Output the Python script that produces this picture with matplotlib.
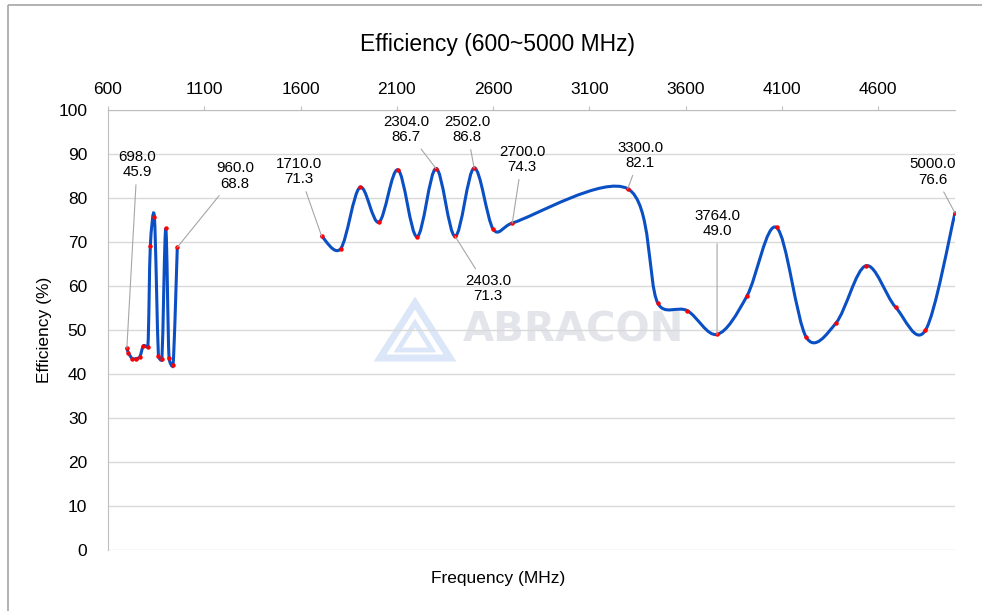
import numpy as np
import matplotlib
matplotlib.use('Agg')
import matplotlib.pyplot as plt
from matplotlib.path import Path
from matplotlib.patches import PathPatch, Rectangle, Polygon

plt.rcParams['font.family'] = ['Liberation Sans', 'DejaVu Sans']

# data (MHz, %)
low_freq = [698, 706, 726, 744, 765, 784, 807, 820, 841, 862, 880, 900, 917, 938, 960]
low_eff = [45.9, 44.8, 43.5, 43.5, 43.9, 46.4, 46.2, 69.2, 75.7, 44.1, 43.3, 73.1, 43.6, 42.0, 68.8]

high_freq = [1710, 1809, 1908, 2007, 2106, 2205, 2304, 2403, 2502, 2601, 2700,
             3300, 3455, 3609, 3764, 3919, 4073, 4228, 4382, 4537, 4691, 4846, 5000]
high_eff = [71.3, 68.5, 82.4, 74.5, 86.4, 71.2, 86.7, 71.3, 86.8, 72.9, 74.3,
            82.1, 56.2, 54.4, 49.0, 57.7, 73.3, 48.3, 51.6, 64.6, 55.2, 49.9, 76.6]

labeled = [698, 960, 1710, 2304, 2403, 2502, 2700, 3300, 3764, 5000]

x_ticks = [600, 1100, 1600, 2100, 2600, 3100, 3600, 4100, 4600]
y_ticks = list(range(0, 101, 10))

# where each callout text sits (data coords)
label_pos = {698: (751, 87.6), 960: (1260, 85.0), 1710: (1592, 86.0),
             2304: (2148, 95.6), 2403: (2574, 59.4), 2502: (2465, 95.6),
             2700: (2751, 88.8), 3300: (3364, 89.7), 3764: (3764, 74.2),
             5000: (4886, 85.9)}

PX = np.array([847 / 4400.0, 4.4])   # pixels per MHz, per percent


def smooth_path(xs, ys):
    # smoothed line like excel: catmull-rom bezier, control arms capped
    pts = np.column_stack([xs, ys]).astype(float)
    n = len(pts)
    scr = pts * PX
    seg = np.hypot(*np.diff(scr, axis=0).T)
    tang = [(pts[min(i + 1, n - 1)] - pts[max(i - 1, 0)]) / 6 for i in range(n)]

    def arm(t, limit):
        ln = np.hypot(*(t * PX))
        if ln > limit and ln > 0:
            t = t * limit / ln
        return t

    verts = [pts[0]]
    codes = [Path.MOVETO]
    for i in range(n - 1):
        c1 = pts[i] + arm(tang[i], 0.5 * seg[i])
        c2 = pts[i + 1] - arm(tang[i + 1], 0.5 * seg[i])
        verts += [c1, c2, pts[i + 1]]
        codes += [Path.CURVE4] * 3
    return Path(verts, codes)


fig = plt.figure(figsize=(9.82, 6.11), dpi=100)

# background layer in pixel coords for border + watermark
bg = fig.add_axes([0, 0, 1, 1], zorder=0)
bg.set_xlim(0, 982)
bg.set_ylim(611, 0)
bg.axis('off')
bg.add_patch(Rectangle((8, 5), 1100, 700, fill=False, edgecolor='#a6a6a6', lw=1.2))
logo_c = '#dbe7f8'
bg.add_patch(Polygon([(380, 358), (415, 303), (450, 358)], closed=True, fill=False,
                     edgecolor=logo_c, lw=5, joinstyle='miter'))
bg.add_patch(Polygon([(398, 350), (415, 323), (432, 350)], closed=True, fill=False,
                     edgecolor=logo_c, lw=3.5, joinstyle='miter'))
bg.text(573, 330, 'ABRACON', fontsize=29, fontweight='bold', family='DejaVu Sans',
        color='#e4e5eb', ha='center', va='center')

ax = fig.add_axes([108 / 982, 1 - 550 / 611, (955 - 108) / 982, 440 / 611], zorder=1)
ax.patch.set_alpha(0)

ax.set_xlim(600, 5000)
ax.set_ylim(0, 100)
ax.xaxis.tick_top()
ax.set_xticks(x_ticks)
ax.set_yticks(y_ticks)
ax.tick_params(axis='x', direction='out', length=3, width=0.8, color='#bfbfbf',
               pad=6, labelsize=12.5)
ax.tick_params(axis='y', length=0, pad=15, labelsize=12.5)
ax.grid(axis='y', color='#d9d9d9', lw=1)
ax.set_axisbelow(True)
for s in ['right', 'bottom']:
    ax.spines[s].set_visible(False)
ax.spines['top'].set_color('#bfbfbf')
ax.spines['left'].set_color('#bfbfbf')

line_c = '#0a4fc4'
for fx, ey in [(low_freq, low_eff), (high_freq, high_eff)]:
    ax.add_patch(PathPatch(smooth_path(fx, ey), fill=False, edgecolor=line_c, lw=2.2,
                           zorder=3, capstyle='round'))
    ax.plot(fx, ey, 'o', color='#ff0000', markersize=3.2, zorder=4, markeredgewidth=0)

all_f = low_freq + high_freq
all_e = low_eff + high_eff
for f in labeled:
    e = all_e[all_f.index(f)]
    ax.annotate('%.1f\n%.1f' % (f, e), xy=(f, e), xytext=label_pos[f],
                ha='center', va='center', fontsize=10.8, linespacing=1.12,
                arrowprops=dict(arrowstyle='-', color='#a6a6a6', lw=0.8,
                                shrinkA=2, shrinkB=0), zorder=5)

fig.text(498 / 982, 1 - 45 / 611, 'Efficiency (600~5000 MHz)', fontsize=16.5,
         ha='center', va='center')
fig.text(498 / 982, 1 - 578 / 611, 'Frequency (MHz)', fontsize=12.5,
         ha='center', va='center')
fig.text(45 / 982, 1 - 330 / 611, 'Efficiency (%)', fontsize=12.5, rotation=90,
         ha='center', va='center')

fig.savefig('out.png', dpi=100)
